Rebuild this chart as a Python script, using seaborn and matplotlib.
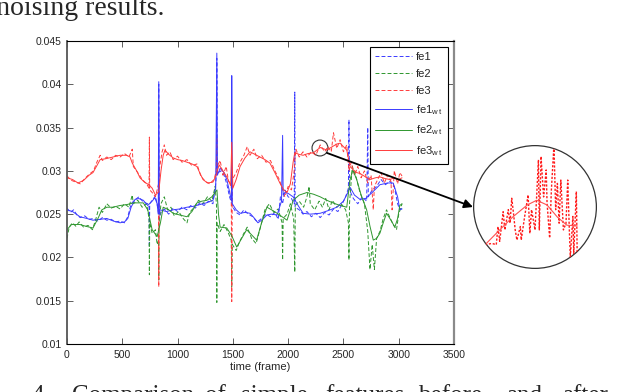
import matplotlib
matplotlib.use('Agg')
import matplotlib.pyplot as plt
from matplotlib.patches import Ellipse
import seaborn as sns

# values (frame, feature value)
fe1_t = [0, 30, 60, 90, 120, 160, 200, 240, 280, 320, 360, 400, 440, 480, 520, 550, 580, 610, 650, 690,
         730, 742, 745, 748, 770, 800, 820, 828, 830, 833, 850, 880, 920, 960, 1000, 1040, 1085, 1120,
         1160, 1200, 1240, 1280, 1320, 1345, 1352, 1355, 1358, 1385, 1420, 1445, 1470, 1500, 1530, 1565,
         1600, 1640, 1680, 1720, 1760, 1800, 1840, 1880, 1910, 1930, 1950, 1970, 2000, 2030, 2055, 2060,
         2063, 2100, 2135, 2170, 2210, 2250, 2290, 2330, 2370, 2410, 2450, 2490, 2520, 2545, 2550, 2555,
         2590, 2630, 2670, 2710, 2720, 2725, 2760, 2800, 2840, 2880, 2920, 2960, 2990, 3010, 3030]
fe1 = [0.0257, 0.0252, 0.0255, 0.0249, 0.0246, 0.0248, 0.0244, 0.0245, 0.0242, 0.0246, 0.0243, 0.0244,
       0.0241, 0.0242, 0.0240, 0.0247, 0.0262, 0.0266, 0.0270, 0.0264, 0.0262, 0.0258, 0.0212, 0.0262,
       0.0266, 0.0271, 0.0258, 0.0250, 0.0400, 0.0245, 0.0252, 0.0256, 0.0250, 0.0257, 0.0253, 0.0258,
       0.0255, 0.0260, 0.0257, 0.0263, 0.0260, 0.0265, 0.0262, 0.0285, 0.0300, 0.0430, 0.0296, 0.0300,
       0.0295, 0.0285, 0.0270, 0.0258, 0.0252, 0.0249, 0.0255, 0.0250, 0.0247, 0.0241, 0.0245, 0.0250,
       0.0247, 0.0252, 0.0244, 0.0270, 0.0262, 0.0278, 0.0270, 0.0268, 0.0262, 0.0391, 0.0258, 0.0255,
       0.0250, 0.0253, 0.0247, 0.0251, 0.0246, 0.0252, 0.0249, 0.0256, 0.0253, 0.0262, 0.0270, 0.0280,
       0.0359, 0.0278, 0.0268, 0.0262, 0.0270, 0.0265, 0.0350, 0.0270, 0.0278, 0.0282, 0.0290, 0.0284,
       0.0288, 0.0282, 0.0262, 0.0255, 0.0257]

fe2_t = [0, 20, 50, 80, 110, 150, 190, 230, 260, 290, 320, 360, 400, 440, 480, 520, 560, 590, 600, 640,
         680, 720, 742, 745, 748, 770, 800, 815, 828, 830, 833, 850, 880, 910, 940, 970, 1010, 1050, 1085,
         1110, 1150, 1190, 1230, 1270, 1310, 1340, 1352, 1355, 1358, 1385, 1420, 1460, 1485, 1490, 1495,
         1530, 1560, 1600, 1630, 1670, 1710, 1750, 1790, 1830, 1870, 1910, 1945, 1950, 1955, 1990, 2020,
         2050, 2060, 2065, 2100, 2140, 2170, 2190, 2200, 2240, 2280, 2310, 2340, 2370, 2400, 2440, 2480,
         2520, 2545, 2550, 2555, 2580, 2610, 2650, 2690, 2720, 2740, 2760, 2780, 2800, 2830, 2860, 2890,
         2920, 2950, 2980, 3000, 3030]
fe2 = [0.0222, 0.0235, 0.0240, 0.0236, 0.0241, 0.0235, 0.0237, 0.0232, 0.0244, 0.0258, 0.0252, 0.0262,
       0.0257, 0.0259, 0.0256, 0.0262, 0.0258, 0.0272, 0.0262, 0.0266, 0.0258, 0.0262, 0.0245, 0.0180,
       0.0240, 0.0228, 0.0232, 0.0215, 0.0220, 0.0174, 0.0240, 0.0262, 0.0270, 0.0255, 0.0258, 0.0248,
       0.0253, 0.0245, 0.0240, 0.0252, 0.0258, 0.0266, 0.0262, 0.0270, 0.0265, 0.0282, 0.0260, 0.0148,
       0.0240, 0.0230, 0.0238, 0.0228, 0.0220, 0.0166, 0.0215, 0.0208, 0.0218, 0.0228, 0.0235, 0.0222,
       0.0216, 0.0235, 0.0255, 0.0262, 0.0252, 0.0256, 0.0240, 0.0197, 0.0245, 0.0250, 0.0262, 0.0245,
       0.0183, 0.0260, 0.0265, 0.0258, 0.0270, 0.0282, 0.0262, 0.0255, 0.0265, 0.0258, 0.0268, 0.0255,
       0.0266, 0.0258, 0.0262, 0.0255, 0.0240, 0.0197, 0.0262, 0.0305, 0.0295, 0.0275, 0.0262, 0.0230,
       0.0186, 0.0215, 0.0186, 0.0222, 0.0230, 0.0245, 0.0255, 0.0246, 0.0238, 0.0232, 0.0250, 0.0262]

fe3_t = [0, 40, 80, 120, 160, 200, 240, 270, 300, 320, 360, 400, 440, 480, 520, 560, 590, 600, 640, 680,
         720, 742, 745, 748, 770, 800, 828, 830, 833, 860, 880, 900, 930, 960, 1000, 1040, 1085, 1130,
         1175, 1210, 1250, 1290, 1330, 1350, 1355, 1358, 1385, 1410, 1440, 1460, 1485, 1490, 1495, 1530,
         1565, 1600, 1630, 1655, 1690, 1720, 1760, 1800, 1840, 1880, 1920, 1945, 1970, 2000, 2030, 2055,
         2070, 2100, 2135, 2170, 2210, 2250, 2290, 2330, 2360, 2390, 2410, 2440, 2470, 2500, 2530, 2550,
         2570, 2600, 2630, 2660, 2690, 2720, 2750, 2770, 2780, 2810, 2840, 2870, 2900, 2930, 2940, 2960,
         2990, 3010, 3030]
fe3 = [0.0294, 0.0289, 0.0287, 0.0285, 0.0291, 0.0296, 0.0300, 0.0310, 0.0318, 0.0312, 0.0316, 0.0313,
       0.0318, 0.0316, 0.0320, 0.0316, 0.0325, 0.0305, 0.0298, 0.0290, 0.0285, 0.0280, 0.0339, 0.0278,
       0.0275, 0.0270, 0.0285, 0.0166, 0.0300, 0.0322, 0.0330, 0.0318, 0.0322, 0.0313, 0.0317, 0.0310,
       0.0313, 0.0306, 0.0308, 0.0294, 0.0288, 0.0285, 0.0290, 0.0300, 0.0339, 0.0305, 0.0312, 0.0295,
       0.0305, 0.0288, 0.0285, 0.0149, 0.0290, 0.0298, 0.0310, 0.0318, 0.0328, 0.0318, 0.0325, 0.0314,
       0.0318, 0.0310, 0.0312, 0.0300, 0.0290, 0.0280, 0.0270, 0.0282, 0.0278, 0.0300, 0.0325, 0.0316,
       0.0322, 0.0316, 0.0322, 0.0318, 0.0330, 0.0322, 0.0328, 0.0322, 0.0344, 0.0326, 0.0336, 0.0322,
       0.0330, 0.0300, 0.0310, 0.0295, 0.0305, 0.0292, 0.0300, 0.0286, 0.0295, 0.0255, 0.0282, 0.0290,
       0.0298, 0.0286, 0.0295, 0.0288, 0.0255, 0.0300, 0.0285, 0.0298, 0.0294]

fe1_wt_t = [0, 50, 117, 180, 235, 300, 360, 420, 480, 520, 550, 580, 615, 650, 690, 730, 770, 795, 815,
            825, 830, 835, 840, 900, 960, 1020, 1085, 1140, 1200, 1260, 1320, 1345, 1355, 1360, 1385,
            1420, 1445, 1470, 1488, 1490, 1495, 1530, 1565, 1610, 1655, 1690, 1727, 1770, 1808, 1850,
            1900, 1940, 1950, 1955, 1970, 2000, 2045, 2090, 2135, 2200, 2290, 2360, 2440, 2500, 2540,
            2560, 2600, 2650, 2700, 2760, 2830, 2900, 2950, 2990, 3010, 3030]
fe1_wt = [0.0255, 0.0253, 0.0247, 0.0245, 0.0243, 0.0244, 0.0245, 0.0242, 0.0240, 0.0241, 0.0245, 0.0258,
          0.0267, 0.0268, 0.0266, 0.0260, 0.0265, 0.0269, 0.0262, 0.0250, 0.0403, 0.0250, 0.0255, 0.0253,
          0.0255, 0.0256, 0.0258, 0.0259, 0.0261, 0.0263, 0.0266, 0.0280, 0.0436, 0.0295, 0.0303, 0.0298,
          0.0290, 0.0276, 0.0265, 0.0410, 0.0262, 0.0255, 0.0251, 0.0252, 0.0251, 0.0246, 0.0240, 0.0244,
          0.0249, 0.0250, 0.0249, 0.0265, 0.0341, 0.0272, 0.0275, 0.0274, 0.0270, 0.0260, 0.0251, 0.0250,
          0.0251, 0.0254, 0.0258, 0.0265, 0.0275, 0.0281, 0.0272, 0.0267, 0.0268, 0.0275, 0.0284, 0.0286,
          0.0286, 0.0270, 0.0255, 0.0256]

fe2_wt_t = [0, 40, 80, 117, 170, 235, 280, 315, 360, 416, 480, 540, 600, 650, 690, 730, 770, 815, 845, 870,
            920, 960, 1020, 1085, 1130, 1175, 1220, 1265, 1310, 1356, 1370, 1385, 1445, 1490, 1535, 1580,
            1625, 1670, 1715, 1760, 1808, 1850, 1900, 1945, 1990, 2020, 2045, 2100, 2170, 2230, 2290, 2350,
            2405, 2470, 2530, 2560, 2585, 2620, 2660, 2710, 2740, 2770, 2800, 2830, 2860, 2890, 2930, 2965,
            2990, 3010, 3030]
fe2_wt = [0.0232, 0.0238, 0.0238, 0.0238, 0.0236, 0.0234, 0.0245, 0.0255, 0.0258, 0.0258, 0.0260, 0.0261,
          0.0263, 0.0263, 0.0263, 0.0255, 0.0232, 0.0224, 0.0240, 0.0258, 0.0255, 0.0251, 0.0249, 0.0247,
          0.0253, 0.0263, 0.0265, 0.0266, 0.0270, 0.0278, 0.0250, 0.0235, 0.0234, 0.0225, 0.0212, 0.0222,
          0.0232, 0.0226, 0.0220, 0.0240, 0.0258, 0.0255, 0.0251, 0.0247, 0.0243, 0.0255, 0.0266, 0.0272,
          0.0275, 0.0273, 0.0270, 0.0266, 0.0263, 0.0260, 0.0258, 0.0290, 0.0301, 0.0290, 0.0272, 0.0255,
          0.0236, 0.0220, 0.0222, 0.0228, 0.0240, 0.0251, 0.0243, 0.0235, 0.0245, 0.0260, 0.0262]

fe3_wt_t = [0, 50, 100, 150, 200, 235, 270, 300, 350, 416, 480, 540, 570, 590, 630, 660, 700, 740, 770, 800,
            830, 850, 870, 886, 920, 960, 1000, 1040, 1085, 1130, 1175, 1200, 1230, 1270, 1320, 1350, 1375,
            1410, 1450, 1480, 1490, 1500, 1530, 1565, 1610, 1655, 1700, 1745, 1790, 1835, 1880, 1925, 1960,
            1990, 2020, 2045, 2060, 2100, 2135, 2180, 2230, 2290, 2350, 2400, 2440, 2470, 2500, 2530, 2560,
            2590, 2620, 2650, 2700, 2740, 2790, 2830, 2880, 2920, 2960, 3000, 3030]
fe3_wt = [0.0292, 0.0290, 0.0286, 0.0289, 0.0295, 0.0298, 0.0306, 0.0313, 0.0314, 0.0316, 0.0318, 0.0318,
          0.0316, 0.0309, 0.0300, 0.0292, 0.0287, 0.0284, 0.0280, 0.0272, 0.0276, 0.0300, 0.0318, 0.0324,
          0.0319, 0.0315, 0.0313, 0.0312, 0.0310, 0.0308, 0.0305, 0.0298, 0.0290, 0.0286, 0.0287, 0.0295,
          0.0307, 0.0300, 0.0292, 0.0283, 0.0333, 0.0280, 0.0290, 0.0305, 0.0315, 0.0322, 0.0319, 0.0316,
          0.0313, 0.0309, 0.0298, 0.0286, 0.0278, 0.0275, 0.0285, 0.0310, 0.0321, 0.0319, 0.0318, 0.0320,
          0.0321, 0.0327, 0.0324, 0.0328, 0.0331, 0.0332, 0.0328, 0.0324, 0.0305, 0.0301, 0.0298, 0.0297,
          0.0293, 0.0290, 0.0292, 0.0293, 0.0291, 0.0290, 0.0292, 0.0290, 0.0292]

# magnified piece of fe3 / fe3_wt shown in the circle on the right
zoom_t = [2230, 2238, 2243, 2245, 2247, 2251, 2253, 2257, 2259, 2261, 2263, 2265, 2267, 2271, 2272, 2276,
          2280, 2282, 2284, 2288, 2292, 2293, 2295, 2298, 2301, 2302, 2305, 2307, 2310, 2312, 2314, 2316,
          2318, 2321, 2324, 2326, 2328, 2329, 2332, 2333, 2336, 2337]
zoom_fe3 = [0.03208, 0.03210, 0.03208, 0.03235, 0.03213, 0.03257, 0.03230, 0.03260, 0.03240, 0.03277,
            0.03255, 0.03230, 0.03215, 0.03235, 0.03215, 0.03250, 0.03282, 0.03225, 0.03260, 0.03230,
            0.03334, 0.03230, 0.03339, 0.03279, 0.03319, 0.03270, 0.03218, 0.03289, 0.03356, 0.03260,
            0.03299, 0.03240, 0.03304, 0.03230, 0.03240, 0.03304, 0.03225, 0.03190, 0.03250, 0.03195,
            0.03287, 0.03193]
zoom_wt_t = [2230, 2247, 2262, 2279, 2290, 2302, 2314, 2325, 2337]
zoom_fe3_wt = [0.03208, 0.03230, 0.03249, 0.03267, 0.03274, 0.03267, 0.03249, 0.03237, 0.03236]
zoom_center = (2288, 0.03264)
zoom_size = (144, 0.00184)

xticks = [0, 500, 1000, 1500, 2000, 2500, 3000, 3500]
yticks = [0.01, 0.015, 0.02, 0.025, 0.03, 0.035, 0.04, 0.045]
ytick_labels = ['0.01', '0.015', '0.02', '0.025', '0.03', '0.035', '0.04', '0.045']

sns.set_style('ticks')
plt.rcParams['font.family'] = ['Liberation Sans', 'DejaVu Sans']
plt.rcParams['mathtext.fontset'] = 'custom'
plt.rcParams['mathtext.rm'] = 'Liberation Sans'

blue = '#3a3aff'
green = '#2e962e'
red = '#ff3b3b'
dash = (0, (4, 2.2))

fig = plt.figure(figsize=(6.26, 3.92), dpi=100)
ax = fig.add_axes([67 / 626, 48 / 392, 387 / 626, 303 / 392])

series = [
    (fe1_t, fe1, blue, dash, 'fe1'),
    (fe2_t, fe2, green, dash, 'fe2'),
    (fe3_t, fe3, red, dash, 'fe3'),
    (fe1_wt_t, fe1_wt, blue, '-', r'fe1$_{\mathrm{w\,t}}$'),
    (fe2_wt_t, fe2_wt, green, '-', r'fe2$_{\mathrm{w\,t}}$'),
    (fe3_wt_t, fe3_wt, red, '-', r'fe3$_{\mathrm{w\,t}}$'),
]
for t, v, c, ls, lab in series:
    sns.lineplot(x=t, y=v, ax=ax, color=c, linestyle=ls, linewidth=0.7)

ax.set_xlim(0, 3500)
ax.set_ylim(0.01, 0.045)
ax.set_xticks(xticks)
ax.set_xticklabels([str(x) for x in xticks])
ax.set_yticks(yticks)
ax.set_yticklabels(ytick_labels)
ax.tick_params(direction='in', top=True, right=True, length=4, width=0.6,
               labelsize=7.5, pad=4, color='#444444')
ax.set_xlabel('time (frame)', fontsize=8, labelpad=2)
ax.set_ylabel('')
for side in ['top', 'bottom']:
    ax.spines[side].set_linewidth(0.8)
    ax.spines[side].set_color('black')
ax.spines['left'].set_linewidth(1.3)
ax.spines['left'].set_color('#555555')
ax.spines['right'].set_linewidth(1.6)
ax.spines['right'].set_color('#8a8a8a')

# legend built from the drawn lines so the handles keep their colours
handles = list(ax.lines[:len(series)])
labels = [s[4] for s in series]
leg = ax.legend(handles, labels, loc='upper right', fontsize=8, frameon=True, fancybox=False,
                framealpha=1, edgecolor='black', handlelength=3.3, handletextpad=0.4,
                labelspacing=0.62, borderaxespad=0.5, borderpad=0.5)
leg.get_frame().set_linewidth(0.8)

# small circle marking the magnified region
ax.add_patch(Ellipse(zoom_center, zoom_size[0], zoom_size[1],
                     fill=False, edgecolor='#333333', linewidth=0.8))

# magnified view
ax_in = fig.add_axes([473 / 626, 123 / 392, 124 / 626, 124 / 392])
ax_in.set_xlim(zoom_center[0] - zoom_size[0] / 2, zoom_center[0] + zoom_size[0] / 2)
ax_in.set_ylim(zoom_center[1] - zoom_size[1] / 2, zoom_center[1] + zoom_size[1] / 2)
ax_in.axis('off')
ring = Ellipse(zoom_center, zoom_size[0] * 0.99, zoom_size[1] * 0.99, fill=False,
               edgecolor='#333333', linewidth=0.9)
ax_in.add_patch(ring)
sns.lineplot(x=zoom_t, y=zoom_fe3, ax=ax_in, color='#ff1a1a', linestyle=(0, (1.6, 1.2)), linewidth=1.0)
sns.lineplot(x=zoom_wt_t, y=zoom_fe3_wt, ax=ax_in, color='#ff5050', linewidth=0.8)
for ln in ax_in.lines:
    ln.set_clip_path(ring)

ax.annotate('', xy=(zoom_center[0] - zoom_size[0] / 2, zoom_center[1]), xycoords=ax_in.transData,
            xytext=(2351, 0.03207), textcoords='data', annotation_clip=False,
            arrowprops=dict(arrowstyle='-|>', color='black', lw=1.3, mutation_scale=13,
                            shrinkA=0, shrinkB=0))

# clipped caption text from the page
serif = ['Liberation Serif', 'DejaVu Serif']
fig.text(165 / 626, 1 - 15 / 392, 'denoising results.', ha='right', va='baseline',
         fontsize=20, family=serif)
words = ['4.', 'Comparison', 'of', 'simple', 'features', 'before', 'and', 'after']
word_x = [32, 72, 205, 241, 325, 418, 506, 562]
for w, xw in zip(words, word_x):
    fig.text(xw / 626, -10 / 392, w, ha='left', va='baseline', fontsize=18, family=serif)

fig.savefig('out.png', dpi=100)
